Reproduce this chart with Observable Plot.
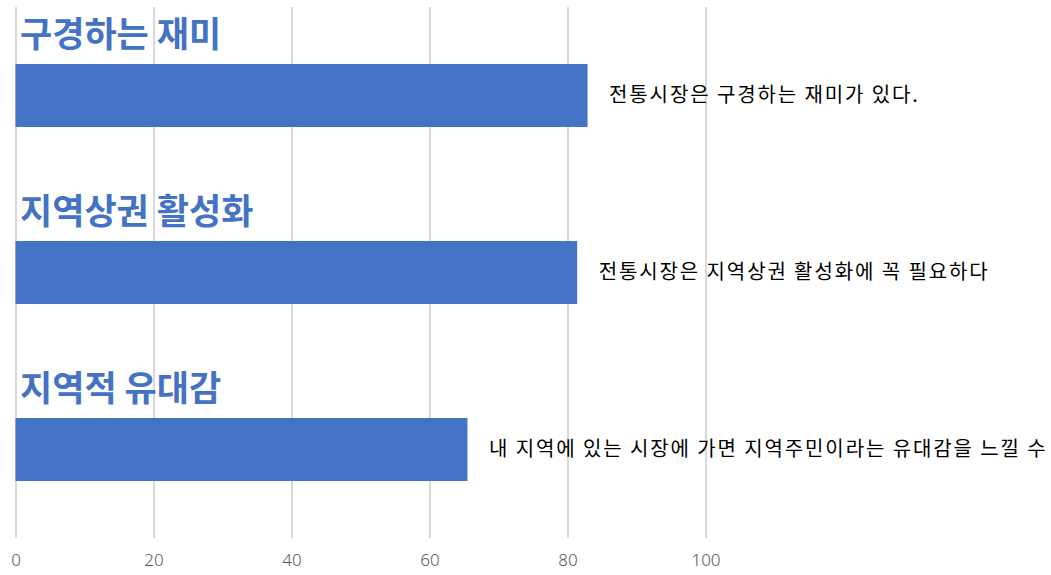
<!DOCTYPE html>
<html>
<head>
<meta charset="utf-8">
<script src="https://cdn.jsdelivr.net/npm/d3@7"></script>
<script src="https://cdn.jsdelivr.net/npm/@observablehq/plot@0.6"></script>
<style>
  html, body { margin: 0; padding: 0; background: #fff; overflow: hidden; }
  #chart { width: 1051px; height: 575px; }
  #chart svg { overflow: hidden; font-family: "Noto Sans CJK KR", "Noto Sans", sans-serif; }
  .stmt text { letter-spacing: 1.9px; }
</style>
</head>
<body>
<div id="chart"></div>
<script>
const categories = ["구경하는 재미", "지역상권 활성화", "지역적 유대감"];
const values = [82.9, 81.4, 65.5];
const statements = [
  "전통시장은 구경하는 재미가 있다.",
  "전통시장은 지역상권 활성화에 꼭 필요하다",
  "내 지역에 있는 시장에 가면 지역주민이라는 유대감을 느낄 수 있다"
];
const tickValues = [0, 20, 40, 60, 80, 100];

const data = categories.map((c, i) => ({category: c, value: values[i], statement: statements[i]}));

const chart = Plot.plot({
  width: 1051,
  height: 575,
  marginLeft: 15.5,
  marginRight: 0.5,
  marginTop: 7,
  marginBottom: 37,
  style: {fontFamily: "'Noto Sans CJK KR', 'Noto Sans', sans-serif", background: "#fff"},
  x: {domain: [0, 150], axis: null},
  y: {domain: categories, padding: 0, axis: null},
  marks: [
    Plot.ruleX(tickValues, {stroke: "#d9d9d9", strokeWidth: 2}),
    Plot.axisX(tickValues, {
      label: null,
      tickSize: 0,
      tickPadding: 15,
      fontSize: 17,
      fill: "#595959",
      fontFamily: "'Noto Sans', sans-serif",
      fontWeight: 300,
      tickFormat: d => String(d)
    }),
    Plot.barX(data, {x: "value", y: "category", fill: "#4472C4", insetTop: 57, insetBottom: 57}),
    Plot.text(data, {
      x: 0, y: "category", text: "category",
      textAnchor: "start", dx: 4, dy: -60,
      fontSize: 35, fontWeight: "bold", fill: "#4472C4"
    }),
    Plot.text(data, {
      x: "value", y: "category", text: "statement",
      textAnchor: "start", dx: 21, dy: 0,
      fontSize: 20, fill: "#000",
      className: "stmt"
    })
  ]
});
document.getElementById("chart").appendChild(chart);
</script>
</body>
</html>
